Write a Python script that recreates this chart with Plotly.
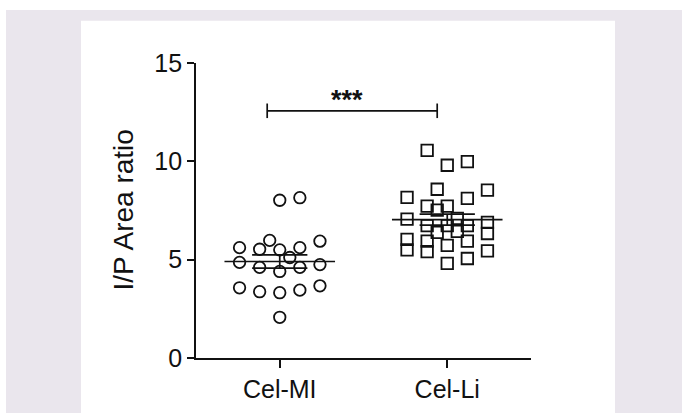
import numpy as np
import plotly.graph_objects as go

# ---------------- data ----------------
categories = ["Cel-MI", "Cel-Li"]
cel_mi_values = [2.07, 3.57, 3.37, 3.32, 3.45, 3.67, 4.86, 4.61, 4.40, 4.61,
                 4.75, 5.11, 5.61, 5.53, 5.50, 5.61, 5.94, 5.98, 8.02, 8.15]
cel_mi_jitter = [0.0, -0.24, -0.12, 0.0, 0.12, 0.24, -0.24, -0.12, 0.0, 0.12,
                 0.24, 0.06, -0.24, -0.12, 0.0, 0.12, 0.24, -0.06, 0.0, 0.12]
cel_li_values = [10.56, 9.80, 9.99, 8.58, 8.54, 8.17, 8.12, 7.72, 7.72, 7.52,
                 7.06, 7.10, 6.90, 6.73, 6.73, 6.73, 6.39, 6.44, 6.33, 6.03,
                 5.94, 5.73, 5.94, 5.50, 5.41, 5.45, 5.06, 4.81]
cel_li_jitter = [-0.12, 0.0, 0.12, -0.06, 0.24, -0.24, 0.12, -0.12, 0.0, -0.06,
                 -0.24, 0.06, 0.24, -0.12, 0.0, 0.12, -0.06, 0.06, 0.24, -0.24,
                 -0.12, 0.0, 0.12, -0.24, -0.12, 0.24, 0.12, 0.0]
y_ticks = [0, 5, 10, 15]
significance = "***"
sig_bar_y = 12.57
y_title = "I/P Area ratio"

# ---------------- figure ----------------
W, H = 682, 415
L, R, T, B = 196, 151, 63, 51
INK = "#111111"
LAV = "#EAE6ED"
FONT = "Liberation Sans, Arial"

fig = go.Figure()

groups = [(1, cel_mi_values, cel_mi_jitter, "circle-open"),
          (2, cel_li_values, cel_li_jitter, "square-open")]

for pos, vals, jit, sym in groups:
    fig.add_trace(go.Scatter(
        x=[pos + j for j in jit], y=vals, mode="markers",
        marker=dict(symbol=sym, size=11.5, color=INK, line=dict(width=1.8, color=INK)),
        showlegend=False, hoverinfo="y"))


def px_to_paper_x(px):
    return (px - L) / (W - L - R)


def px_to_paper_y(py):
    return (H - B - py) / (H - T - B)


shapes = []
shapes.append(dict(type="rect", xref="paper", yref="paper", layer="below",
                   x0=px_to_paper_x(6), x1=px_to_paper_x(690),
                   y0=px_to_paper_y(420), y1=px_to_paper_y(9),
                   fillcolor=LAV, line=dict(width=0)))
shapes.append(dict(type="rect", xref="paper", yref="paper", layer="below",
                   x0=px_to_paper_x(81), x1=px_to_paper_x(615),
                   y0=px_to_paper_y(420), y1=px_to_paper_y(20),
                   fillcolor="white", line=dict(width=0)))

# mean +/- SEM lines
for pos, vals, jit, sym in groups:
    v = np.array(vals)
    m = v.mean()
    sem = v.std(ddof=1) / np.sqrt(len(v))
    ln = dict(color=INK, width=1.7)
    shapes.append(dict(type="line", xref="x", yref="y", x0=pos - 0.33, x1=pos + 0.33,
                       y0=m, y1=m, line=ln))
    for s in (m - sem, m + sem):
        shapes.append(dict(type="line", xref="x", yref="y", x0=pos - 0.165, x1=pos + 0.165,
                           y0=s, y1=s, line=ln))
    shapes.append(dict(type="line", xref="x", yref="y", x0=pos, x1=pos,
                       y0=m - sem, y1=m + sem, line=ln))

# significance bracket
ln = dict(color=INK, width=1.7)
shapes.append(dict(type="line", xref="x", yref="y", x0=0.925, x1=1.94,
                   y0=sig_bar_y, y1=sig_bar_y, line=ln))
for xx in (0.925, 1.94):
    shapes.append(dict(type="line", xref="x", yref="y", x0=xx, x1=xx,
                       y0=sig_bar_y - 0.37, y1=sig_bar_y + 0.37, line=ln))

fig.update_layout(shapes=shapes)

fig.add_annotation(x=1.40, y=13.1, xref="x", yref="y", text="<b>" + significance + "</b>",
                   showarrow=False, font=dict(family=FONT, size=27, color=INK),
                   xanchor="center", yanchor="middle")
fig.add_annotation(x=px_to_paper_x(123), y=0.5, xref="paper", yref="paper", text=y_title,
                   textangle=-90, showarrow=False,
                   font=dict(family=FONT, size=28, color=INK),
                   xanchor="center", yanchor="middle")

fig.update_layout(
    width=W, height=H,
    margin=dict(l=L, r=R, t=T, b=B, pad=0),
    paper_bgcolor="white",
    plot_bgcolor="rgba(0,0,0,0)",
    font=dict(family=FONT, color=INK),
    xaxis=dict(range=[0.5, 2.5], tickvals=[1, 2], ticktext=categories,
               showline=True, linecolor=INK, linewidth=1.7, ticks="outside",
               ticklen=8, tickwidth=1.7, tickcolor=INK, showgrid=False, zeroline=False,
               tickfont=dict(size=25, color=INK), fixedrange=True),
    yaxis=dict(range=[0, 15], tickvals=y_ticks, showline=True, linecolor=INK,
               linewidth=1.7, ticks="outside", ticklen=7, tickwidth=1.7, tickcolor=INK,
               showgrid=False, zeroline=False, tickfont=dict(size=25, color=INK),
               fixedrange=True),
)

fig.write_html("out.html",
               config={"displayModeBar": False},
               post_script="document.body.style.margin='0';document.body.style.overflow='hidden';")
